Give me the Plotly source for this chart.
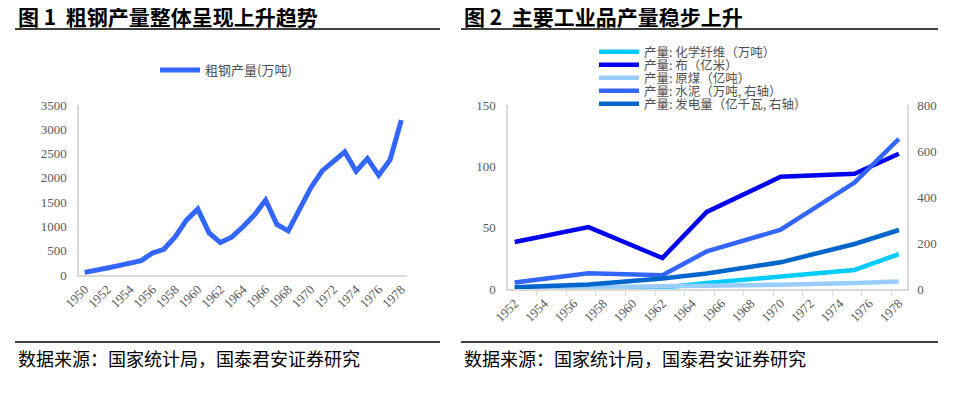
import plotly.graph_objects as go

W, H = 953, 394
OFF = 8  # the page adds an 8px body margin; compensate so layout matches pixel targets

# ---------------- data ----------------
steel_years = list(range(1950, 1979))
steel_values = [55, 90, 145, 193, 240, 296, 455, 530, 785, 1130, 1357, 868, 668, 779,
                992, 1233, 1543, 1040, 909, 1337, 1798, 2143, 2356, 2535, 2136, 2398,
                2053, 2370, 3190]
steel_name = "粗钢产量(万吨)"

ind_years = [1952, 1957, 1962, 1965, 1970, 1975, 1978]
chem_fiber = [0.0, 0.02, 1.0, 5.0, 10.1, 15.5, 28.5]
cloth = [38.3, 50.5, 25.3, 62.8, 91.5, 94.0, 110.3]
coal = [0.66, 1.31, 2.2, 2.32, 3.54, 4.82, 6.18]
cement = [28.6, 68.6, 60.0, 163.4, 257.5, 462.6, 652.4]
power = [7.3, 19.3, 45.8, 67.6, 115.9, 195.8, 256.6]
ind_names = ["产量: 化学纤维（万吨）", "产量: 布（亿米）", "产量: 原煤（亿吨）",
             "产量: 水泥（万吨, 右轴）", "产量: 发电量（亿千瓦, 右轴）"]

left_xticks = list(range(1950, 1979, 2))
right_xticks = list(range(1952, 1979, 2))
left_yticks = [0, 500, 1000, 1500, 2000, 2500, 3000, 3500]
right_y1ticks = [0, 50, 100, 150]
right_y2ticks = [0, 200, 400, 600, 800]

title1 = "图 1  粗钢产量整体呈现上升趋势"
title2 = "图 2  主要工业品产量稳步上升"
source = "数据来源：国家统计局，国泰君安证券研究"

# ---------------- style ----------------
CJK = "Noto Sans CJK SC"
SERIF = "Liberation Serif"
AXIS_C = "#D9D9D9"
TICK_C = "#595959"


def px(x):
    return (x - OFF) / W


def py(y):
    return 1 - (y - OFF) / H


fig = go.Figure()

fig.add_trace(go.Scatter(x=steel_years, y=steel_values, name=steel_name, mode="lines",
                         line=dict(color="#3366FF", width=5), xaxis="x", yaxis="y",
                         legend="legend", showlegend=True))

colors = ["#00CCFF", "#0000EE", "#99CCFF", "#3366FF", "#0066CC"]
series = [chem_fiber, cloth, coal, cement, power]
yaxes = ["y2", "y2", "y2", "y3", "y3"]
legends = ["legend2", "legend3", "legend4", "legend5", "legend6"]
for name, vals, col, ya, lg in zip(ind_names, series, colors, yaxes, legends):
    fig.add_trace(go.Scatter(x=ind_years, y=vals, name=name, mode="lines",
                             line=dict(color=col, width=4.5), xaxis="x2", yaxis=ya,
                             legend=lg, showlegend=True))

tickfont = dict(family=SERIF, size=13, color=TICK_C)
legfont = dict(family=CJK, size=13, color="#505050")
legfont2 = dict(family=CJK, size=12.5, color="#505050")

layout = dict(
    width=W, height=H, autosize=False, showlegend=True,
    margin=dict(l=0, r=0, t=0, b=0, pad=0, autoexpand=False),
    paper_bgcolor="white", plot_bgcolor="white",
    xaxis=dict(domain=[px(79), px(407)], range=[1949.5, 1978.5], tickmode="array",
               tickvals=left_xticks, ticktext=[str(v) for v in left_xticks],
               tickangle=-45, tickfont=tickfont, showline=True, linecolor=AXIS_C,
               linewidth=1.5, showgrid=False, zeroline=False, ticks="", anchor="y",
               automargin=False),
    yaxis=dict(domain=[py(275), py(105)], range=[0, 3500], tickmode="array",
               tickvals=left_yticks, tickfont=tickfont, showline=True, linecolor=AXIS_C,
               linewidth=1.5, showgrid=False, zeroline=False, ticks="",
               ticklabelstandoff=8, anchor="x", automargin=False),
    xaxis2=dict(domain=[px(508), px(907)], range=[1951.55, 1978.55], tickmode="array",
                tickvals=right_xticks, ticktext=[str(v) for v in right_xticks],
                tickangle=-45, tickfont=tickfont, showline=True, linecolor=AXIS_C,
                linewidth=1.5, showgrid=False, zeroline=False, ticks="", anchor="y2",
                automargin=False,
                minor=dict(ticks="outside", tick0=1951.5, dtick=2, ticklen=5,
                           tickcolor=AXIS_C, tickwidth=1.2, showgrid=False)),
    yaxis2=dict(domain=[py(289), py(105)], range=[0, 150], tickmode="array",
                tickvals=right_y1ticks, tickfont=tickfont, showline=True, linecolor=AXIS_C,
                linewidth=1.5, showgrid=False, zeroline=False, ticks="",
                ticklabelstandoff=8, anchor="x2", automargin=False),
    yaxis3=dict(domain=[py(289), py(105)], range=[0, 800], tickmode="array",
                tickvals=right_y2ticks, tickfont=tickfont, showline=True, linecolor=AXIS_C,
                linewidth=1.5, showgrid=False, zeroline=False, ticks="",
                ticklabelstandoff=6, anchor="x2", overlaying="y2", side="right",
                automargin=False),
    legend=dict(x=px(155), y=py(70), xanchor="left", yanchor="middle", visible=True,
                bgcolor="rgba(0,0,0,0)", font=legfont, itemwidth=40),
)
leg_y = [52, 65, 78, 91, 104]
for lg, yy in zip(legends, leg_y):
    layout[lg] = dict(x=px(594), y=py(yy), xanchor="left", yanchor="middle", visible=True,
                      bgcolor="rgba(0,0,0,0)", font=legfont2, itemwidth=40)

fig.update_layout(**layout)

# titles, rules, source notes
for x0, x1, t in [(15, 440, title1), (461, 938, title2)]:
    fig.add_annotation(x=px(x0 + 1), y=py(16.5), xref="paper", yref="paper",
                       text=f"<b>{t}</b>", showarrow=False, xanchor="left",
                       yanchor="middle", font=dict(family=CJK, size=21, color="black"))
    fig.add_shape(type="line", xref="paper", yref="paper", x0=px(x0), x1=px(x1),
                  y0=py(29), y1=py(29), line=dict(color="black", width=1.5))
    fig.add_shape(type="line", xref="paper", yref="paper", x0=px(x0), x1=px(x1),
                  y0=py(342), y1=py(342), line=dict(color="black", width=1.5))
    fig.add_annotation(x=px(x0 + 1), y=py(358), xref="paper", yref="paper", text=source,
                       showarrow=False, xanchor="left", yanchor="middle",
                       font=dict(family=CJK, size=18, color="black"))

fig.write_html("out.html")
